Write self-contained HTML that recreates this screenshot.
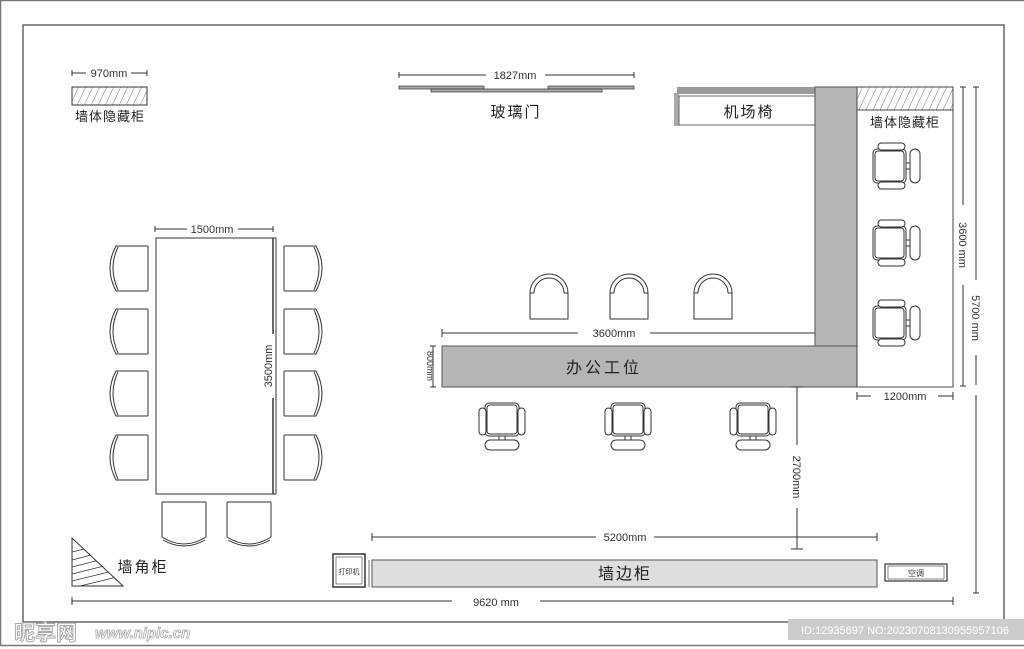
<!DOCTYPE html>
<html><head><meta charset="utf-8"><style>
html,body{margin:0;padding:0;background:#fff;}
svg{display:block;font-family:"Liberation Sans","Noto Sans CJK SC",sans-serif;}
</style></head><body>
<svg width="1024" height="649" viewBox="0 0 1024 649" xmlns="http://www.w3.org/2000/svg">
<defs>
<pattern id="h" width="7" height="18" patternUnits="userSpaceOnUse" patternTransform="skewX(-25)">
<line x1="0" y1="0" x2="0" y2="18" stroke="#444" stroke-width="0.8"/></pattern>
<g id="oc" fill="#fff" stroke="#333" stroke-width="1">
<rect x="-17" y="-19" width="34" height="33" rx="4"/>
<rect x="-15" y="-17" width="30" height="29" rx="3"/>
<rect x="-23" y="-14" width="7" height="27" rx="3.5"/>
<rect x="16" y="-14" width="7" height="27" rx="3.5"/>
<line x1="-3" y1="14" x2="-3" y2="18"/><line x1="3" y1="14" x2="3" y2="18"/>
<rect x="-17" y="18" width="34" height="10" rx="5"/>
</g>
<g id="dc" fill="#fff" stroke="#333" stroke-width="1">
<path d="M44,1 Q44,0 43,0 H12 Q0,22 12,45 H43 Q44,45 44,44 Z"/>
<path d="M14,1 Q4,22 14,44" fill="none"/>
</g>
<g id="ac" fill="#fff" stroke="#333" stroke-width="1">
<path d="M-19,36 V10 A19,19 0 0 1 19,10 V36 Z"/>
<path d="M-15,10 A15,15 0 0 1 15,10" fill="none"/>
<line x1="-15" y1="10" x2="-19" y2="10"/><line x1="15" y1="10" x2="19" y2="10"/>
</g>
</defs>
<!-- frames -->
<rect x="0.5" y="0.5" width="1030" height="645" fill="none" stroke="#777" stroke-width="1.5"/>
<rect x="23" y="25" width="981" height="597" fill="none" stroke="#666" stroke-width="1.5"/>

<!-- top-left cabinet -->
<g stroke="#333" stroke-width="1" fill="none">
<line x1="72" y1="73" x2="86" y2="73"/><line x1="131" y1="73" x2="147" y2="73"/>
<line x1="72" y1="70" x2="72" y2="76"/><line x1="147" y1="70" x2="147" y2="76"/>
</g>
<text x="109" y="77" font-size="11" text-anchor="middle" fill="#333">970mm</text>
<rect x="72" y="87" width="75" height="18" fill="url(#h)" stroke="#333"/>
<text x="110" y="121" font-size="13" text-anchor="middle" fill="#222" letter-spacing="1">墙体隐藏柜</text>

<!-- glass door -->
<g stroke="#333" stroke-width="1">
<line x1="399" y1="75" x2="486" y2="75"/><line x1="545" y1="75" x2="634" y2="75"/>
<line x1="399" y1="72" x2="399" y2="78"/><line x1="634" y1="72" x2="634" y2="78"/>
</g>
<text x="515" y="79" font-size="11" text-anchor="middle" fill="#333">1827mm</text>
<rect x="399" y="86" width="85" height="3" fill="#aaa" stroke="#333" stroke-width="0.7"/>
<rect x="548" y="86" width="86" height="3" fill="#aaa" stroke="#333" stroke-width="0.7"/>
<rect x="431" y="89" width="171" height="3" fill="#aaa" stroke="#333" stroke-width="0.7"/>
<text x="516" y="117" font-size="15" text-anchor="middle" fill="#222" letter-spacing="2">玻璃门</text>

<!-- airport chair -->
<rect x="677" y="87" width="140" height="7" fill="#999"/>
<rect x="674" y="93" width="5" height="33" fill="#aaa"/>
<rect x="679" y="96" width="137" height="29" fill="#fff" stroke="#666"/>
<text x="749" y="117" font-size="15" text-anchor="middle" fill="#222" letter-spacing="2">机场椅</text>

<!-- L workstation -->
<rect x="815" y="87" width="42" height="300" fill="#b5b5b5" stroke="#555"/>
<rect x="442" y="346" width="415" height="41" fill="#b5b5b5" stroke="#555"/>
<text x="604" y="373" font-size="16" text-anchor="middle" fill="#222" letter-spacing="3">办公工位</text>

<!-- right room -->
<rect x="857" y="87" width="96" height="300" fill="#fff" stroke="#444"/>
<rect x="857" y="87" width="96" height="23" fill="url(#h)" stroke="#444"/>
<text x="905" y="127" font-size="13" text-anchor="middle" fill="#222" letter-spacing="1">墙体隐藏柜</text>
<use href="#oc" transform="translate(892,166) rotate(-90)"/>
<use href="#oc" transform="translate(892,243) rotate(-90)"/>
<use href="#oc" transform="translate(892,323) rotate(-90)"/>

<!-- right dims -->
<g stroke="#333" stroke-width="1">
<line x1="963" y1="87" x2="963" y2="205"/><line x1="963" y1="285" x2="963" y2="386"/>
<line x1="960" y1="87" x2="966" y2="87"/><line x1="960" y1="386" x2="966" y2="386"/>
<line x1="976" y1="87" x2="976" y2="280"/><line x1="976" y1="355" x2="976" y2="385"/>
<line x1="976" y1="395" x2="976" y2="593"/>
<line x1="973" y1="87" x2="979" y2="87"/><line x1="973" y1="593" x2="979" y2="593"/>
<line x1="857" y1="396" x2="871" y2="396"/><line x1="938" y1="396" x2="953" y2="396"/>
<line x1="857" y1="392" x2="857" y2="400"/><line x1="953" y1="392" x2="953" y2="400"/>
</g>
<text transform="translate(959,245) rotate(90)" font-size="11" text-anchor="middle" fill="#333">3600 mm</text>
<text transform="translate(972,318) rotate(90)" font-size="11" text-anchor="middle" fill="#333">5700 mm</text>
<text x="905" y="400" font-size="11" text-anchor="middle" fill="#333">1200mm</text>

<!-- arc chairs -->
<use href="#ac" transform="translate(549,283)"/>
<use href="#ac" transform="translate(629,283)"/>
<use href="#ac" transform="translate(713,283)"/>

<!-- 3600 dim -->
<g stroke="#333" stroke-width="1">
<line x1="442" y1="333" x2="578" y2="333"/><line x1="650" y1="333" x2="815" y2="333"/>
<line x1="442" y1="329" x2="442" y2="337"/>
<line x1="430" y1="346" x2="436" y2="346"/><line x1="430" y1="387" x2="436" y2="387"/>
<line x1="433" y1="346" x2="433" y2="387"/>
</g>
<text x="614" y="337" font-size="11" text-anchor="middle" fill="#333">3600mm</text>
<text transform="translate(427,366) rotate(90)" font-size="9" text-anchor="middle" fill="#333">800mm</text>

<!-- office chairs -->
<use href="#oc" transform="translate(502,422)"/>
<use href="#oc" transform="translate(628,422)"/>
<use href="#oc" transform="translate(753,422)"/>

<!-- 2700 -->
<g stroke="#333" stroke-width="1">
<line x1="797" y1="387" x2="797" y2="445"/><line x1="797" y1="508" x2="797" y2="549"/>
<line x1="791" y1="387" x2="803" y2="387"/><line x1="791" y1="549" x2="803" y2="549"/>
</g>
<text transform="translate(793,477) rotate(90)" font-size="11" text-anchor="middle" fill="#333">2700mm</text>

<!-- 5200 dim -->
<g stroke="#333" stroke-width="1">
<line x1="372" y1="537" x2="596" y2="537"/><line x1="654" y1="537" x2="877" y2="537"/>
<line x1="372" y1="533" x2="372" y2="541"/><line x1="877" y1="533" x2="877" y2="541"/>
</g>
<text x="625" y="541" font-size="11" text-anchor="middle" fill="#333">5200mm</text>

<!-- wall cabinet -->
<rect x="333" y="554" width="32" height="33" fill="#fff" stroke="#333" stroke-width="1.5"/>
<rect x="336" y="557" width="26" height="27" fill="#fff" stroke="#333" stroke-width="0.6"/>
<text x="349" y="574" font-size="7" text-anchor="middle" fill="#333">打印机</text>
<line x1="369" y1="560" x2="369" y2="587" stroke="#333" stroke-width="0.7"/>
<rect x="372" y="560" width="505" height="27" fill="#dedede" stroke="#555"/>
<text x="625" y="579" font-size="16" text-anchor="middle" fill="#222" letter-spacing="2">墙边柜</text>
<rect x="885" y="564" width="62" height="17" fill="#fff" stroke="#333" stroke-width="1.2"/>
<rect x="888" y="566" width="56" height="13" fill="#fff" stroke="#333" stroke-width="0.6"/>
<text x="916" y="576" font-size="8" text-anchor="middle" fill="#333">空调</text>

<!-- 9620 -->
<g stroke="#333" stroke-width="1">
<line x1="72" y1="601" x2="452" y2="601"/><line x1="540" y1="601" x2="953" y2="601"/>
<line x1="72" y1="597" x2="72" y2="605"/><line x1="953" y1="597" x2="953" y2="605"/>
</g>
<text x="496" y="606" font-size="11" text-anchor="middle" fill="#333">9620 mm</text>

<!-- table -->
<rect x="156" y="238" width="120" height="256" fill="#fff" stroke="#333"/>
<line x1="273" y1="238" x2="273" y2="494" stroke="#333" stroke-width="1.5"/>
<g stroke="#333" stroke-width="1">
<line x1="155" y1="229" x2="187" y2="229"/><line x1="238" y1="229" x2="273" y2="229"/>
<line x1="155" y1="226" x2="155" y2="232"/><line x1="273" y1="226" x2="273" y2="232"/>
</g>
<text x="212" y="233" font-size="11" text-anchor="middle" fill="#333">1500mm</text>
<rect x="262" y="334" width="12" height="64" fill="#fff"/>
<text transform="translate(272,366) rotate(-90)" font-size="11" text-anchor="middle" fill="#333">3500mm</text>

<!-- dining chairs -->
<use href="#dc" transform="translate(104,246)"/>
<use href="#dc" transform="translate(104,309)"/>
<use href="#dc" transform="translate(104,371)"/>
<use href="#dc" transform="translate(104,435)"/>
<use href="#dc" transform="translate(328,246) scale(-1,1)"/>
<use href="#dc" transform="translate(328,309) scale(-1,1)"/>
<use href="#dc" transform="translate(328,371) scale(-1,1)"/>
<use href="#dc" transform="translate(328,435) scale(-1,1)"/>
<use href="#dc" transform="translate(206,502) rotate(90) translate(0,0) scale(1,1) translate(0,0) rotate(0)" style="display:none"/>
<g fill="#fff" stroke="#333" stroke-width="1">
<path d="M162,502 H205 Q206,502 206,503 V537 Q184,551 162,537 V503 Q162,502 163,502 Z"/>
<path d="M163,540 Q184,552 205,540" fill="none"/>
<path d="M227,502 H270 Q271,502 271,503 V537 Q249,551 227,537 V503 Q227,502 228,502 Z"/>
<path d="M228,540 Q249,552 270,540" fill="none"/>
</g>

<!-- corner cabinet -->
<clipPath id="tri"><path d="M72,538 L123,586 L72,586 Z"/></clipPath>
<path d="M72,538 L123,586 L72,586 Z" fill="#fff" stroke="#333"/>
<g clip-path="url(#tri)" stroke="#333" stroke-width="0.8">
<line x1="72" y1="552" x2="100" y2="545"/><line x1="72" y1="560" x2="110" y2="550"/>
<line x1="72" y1="567" x2="115" y2="556"/><line x1="72" y1="574" x2="120" y2="562"/>
<line x1="72" y1="581" x2="125" y2="568"/><line x1="72" y1="588" x2="125" y2="575"/>
</g>
<text x="143" y="572" font-size="15" text-anchor="middle" fill="#222" letter-spacing="2">墙角柜</text>

<!-- watermarks -->
<text x="14" y="640" font-size="21" font-weight="bold" fill="#fff" stroke="#aaa" stroke-width="1">昵享网</text>
<text x="95" y="638" font-size="15" font-style="italic" font-weight="bold" fill="#fff" stroke="#aaa" stroke-width="0.8">www.nipic.cn</text>
<rect x="788" y="619" width="236" height="21" fill="#ccc"/>
<text x="905" y="634" font-size="11" text-anchor="middle" fill="#fff">ID:12935697 NO:20230708130955957106</text>
</svg>
</body></html>
